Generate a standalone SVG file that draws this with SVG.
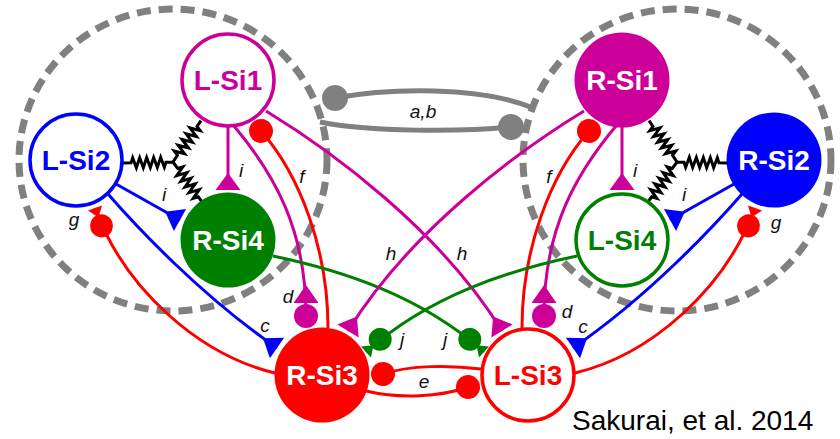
<svg xmlns="http://www.w3.org/2000/svg" width="840" height="439" viewBox="0 0 840 439">
<style>
.dash{fill:none;stroke:#808080;stroke-width:7;stroke-dasharray:14 8}
.spring{fill:none;stroke:#000;stroke-width:3}
.ln{fill:none;stroke-width:3}
.m{stroke:#CC0099}.b{stroke:#0000FF}.r{stroke:#FF0000}.g{stroke:#008000}.k{stroke:#808080;stroke-width:5}
.nt{font-family:"Liberation Sans",Arial,sans-serif;font-weight:bold;font-size:28px;text-anchor:middle}
.lbl{font-family:"Liberation Sans",Arial,sans-serif;font-style:italic;font-size:19px;fill:#111;text-anchor:middle}
.cite{font-family:"Liberation Sans",Arial,sans-serif;font-size:28px;fill:#000}
</style>
<defs>
<path id="spring" d="M0,0 L8,0 l1.75,-5 l3.5,10 l3.5,-10 l3.5,10 l3.5,-10 l3.5,10 l3.5,-10 l3.5,10 l3.5,-10 l3.5,10 l1.75,-5 L50,0"/>
<marker id="triM" markerUnits="userSpaceOnUse" viewBox="-20 -15 22 30" markerWidth="22" markerHeight="30" refX="0" refY="0" orient="auto"><path d="M0,-12.5V12.5L-17,0Z" fill="#CC0099"/></marker>
<marker id="triB" markerUnits="userSpaceOnUse" viewBox="-20 -15 22 30" markerWidth="22" markerHeight="30" refX="0" refY="0" orient="auto"><path d="M0,-12.5V12.5L-17,0Z" fill="#0000FF"/></marker>
<marker id="ballR" markerUnits="userSpaceOnUse" viewBox="-13 -13 26 26" markerWidth="26" markerHeight="26" refX="0" refY="0" orient="auto"><circle r="12" fill="#FF0000"/></marker>
<marker id="ballK" markerUnits="userSpaceOnUse" viewBox="-14 -14 28 28" markerWidth="28" markerHeight="28" refX="0" refY="0" orient="auto"><circle r="13" fill="#808080"/></marker>
<marker id="triBallM" markerUnits="userSpaceOnUse" viewBox="-33 -14 47 28" markerWidth="47" markerHeight="28" refX="0" refY="0" orient="auto"><path d="M-13,-12.5V12.5L-31,0Z" fill="#CC0099"/><circle r="12" fill="#CC0099"/></marker>
<marker id="ballTriR" markerUnits="userSpaceOnUse" viewBox="-32 -13 34 26" markerWidth="34" markerHeight="26" refX="0" refY="0" orient="auto"><circle cx="-19" r="11.5" fill="#FF0000"/><path d="M0,-7.5V7.5L-10,0Z" fill="#FF0000"/></marker>
<marker id="ballTriG" markerUnits="userSpaceOnUse" viewBox="-32 -13 34 26" markerWidth="34" markerHeight="26" refX="0" refY="0" orient="auto"><circle cx="-19" r="11.5" fill="#008000"/><path d="M0,-7.5V7.5L-10,0Z" fill="#008000"/></marker>
</defs>

<g id="clusters">
<ellipse class="dash" cx="173" cy="160" rx="154" ry="151"/>
<ellipse class="dash" cx="677" cy="160" rx="154" ry="151"/>
</g>

<g id="connectors">
<g id="springs-left">
<use href="#spring" class="spring" transform="translate(123,163) rotate(-1)"/>
<use href="#spring" class="spring" transform="translate(173,162) rotate(-56)"/>
<use href="#spring" class="spring" transform="translate(173,162) rotate(54)"/>
</g>
<g id="springs-right" transform="matrix(-1 0 0 1 850 0)">
<use href="#spring" class="spring" transform="translate(123,163) rotate(-1)"/>
<use href="#spring" class="spring" transform="translate(173,162) rotate(-56)"/>
<use href="#spring" class="spring" transform="translate(173,162) rotate(54)"/>
</g>
<g id="conn-left">
<path class="ln m" d="M228,127 L228,190" marker-end="url(#triM)"/>
<path class="ln b" d="M116,184 L180,220" marker-end="url(#triB)"/>
<path class="ln b" d="M108,194 C135,225 200,295 277,348" marker-end="url(#triB)"/>
<path class="ln m" d="M234,126 C275,175 306,230 306,316" marker-end="url(#triBallM)"/>
<path class="ln m" d="M266,111 C330,150 440,230 502,331" marker-end="url(#triM)"/>
<path class="ln r" d="M328,328 C328,250 300,175 261,131" marker-end="url(#ballR)"/>
<path class="ln r" d="M275,373 C200,355 125,290 95,208" marker-end="url(#ballTriR)"/>
<path class="ln g" d="M273,256 C340,270 420,295 484,352" marker-end="url(#ballTriG)"/>
</g>
<g id="conn-right" transform="matrix(-1 0 0 1 850 0)">
<path class="ln m" d="M228,127 L228,190" marker-end="url(#triM)"/>
<path class="ln b" d="M116,184 L180,220" marker-end="url(#triB)"/>
<path class="ln b" d="M108,194 C135,225 200,295 277,348" marker-end="url(#triB)"/>
<path class="ln m" d="M234,126 C275,175 306,230 306,316" marker-end="url(#triBallM)"/>
<path class="ln m" d="M266,111 C330,150 440,230 502,331" marker-end="url(#triM)"/>
<path class="ln r" d="M328,328 C328,250 300,175 261,131" marker-end="url(#ballR)"/>
<path class="ln r" d="M275,373 C200,355 125,290 95,208" marker-end="url(#ballTriR)"/>
<path class="ln g" d="M273,256 C340,270 420,295 484,352" marker-end="url(#ballTriG)"/>
</g>
<g id="conn-center">
<path class="ln r" d="M481,369 C450,365 410,365 383,374" marker-end="url(#ballR)"/>
<path class="ln r" d="M366,391 C400,399 440,397 468,387" marker-end="url(#ballR)"/>
<path class="ln k" d="M533,108 C480,86 390,88 335,98" marker-end="url(#ballK)"/>
<path class="ln k" d="M320,122 C370,132 460,132 511,127" marker-end="url(#ballK)"/>
</g>
<g id="labels">
<text class="lbl" x="423" y="118">a,b</text>
<text class="lbl" x="241" y="177">i</text>
<text class="lbl" x="164" y="201">i</text>
<text class="lbl" x="302" y="183">f</text>
<text class="lbl" x="74" y="226">g</text>
<text class="lbl" x="391" y="260">h</text>
<text class="lbl" x="288" y="303">d</text>
<text class="lbl" x="265" y="332">c</text>
<text class="lbl" x="402" y="346">j</text>
<text class="lbl" x="635" y="177">i</text>
<text class="lbl" x="684" y="201">i</text>
<text class="lbl" x="549" y="183">f</text>
<text class="lbl" x="776" y="229">g</text>
<text class="lbl" x="462" y="260">h</text>
<text class="lbl" x="567" y="318">d</text>
<text class="lbl" x="583" y="333">c</text>
<text class="lbl" x="445" y="346">j</text>
<text class="lbl" x="424" y="388">e</text>
</g>
</g>

<g id="L-Si1"><circle cx="228" cy="80" r="46" fill="#fff" stroke="#CC0099" stroke-width="3.5"/><text class="nt" x="228" y="90" fill="#CC0099">L-Si1</text></g>
<g id="L-Si2"><circle cx="76" cy="160" r="46" fill="#fff" stroke="#0000FF" stroke-width="3.5"/><text class="nt" x="76" y="170" fill="#0000FF">L-Si2</text></g>
<g id="R-Si4"><circle cx="228" cy="240" r="47.5" fill="#008000"/><text class="nt" x="228" y="250" fill="#fff">R-Si4</text></g>
<g id="R-Si3"><circle cx="322" cy="375" r="47.5" fill="#FF0000"/><text class="nt" x="322" y="385" fill="#fff">R-Si3</text></g>
<g id="L-Si3"><circle cx="528" cy="375" r="46" fill="#fff" stroke="#FF0000" stroke-width="3.5"/><text class="nt" x="528" y="385" fill="#FF0000">L-Si3</text></g>
<g id="R-Si1"><circle cx="622" cy="80" r="47.5" fill="#CC0099"/><text class="nt" x="622" y="90" fill="#fff">R-Si1</text></g>
<g id="R-Si2"><circle cx="774" cy="160" r="47.5" fill="#0000FF"/><text class="nt" x="774" y="170" fill="#fff">R-Si2</text></g>
<g id="L-Si4"><circle cx="622" cy="240" r="46" fill="#fff" stroke="#008000" stroke-width="3.5"/><text class="nt" x="622" y="250" fill="#008000">L-Si4</text></g>

<text class="cite" x="572" y="430">Sakurai, et al. 2014</text>
</svg>
